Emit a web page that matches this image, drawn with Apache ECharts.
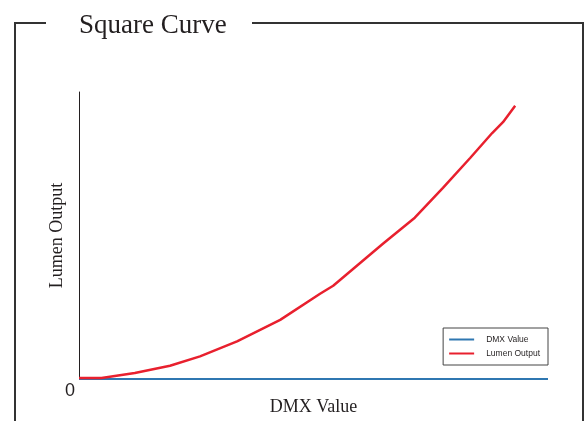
<!DOCTYPE html>
<html>
<head>
<meta charset="utf-8">
<script src="https://cdn.jsdelivr.net/npm/echarts@6/dist/echarts.min.js"></script>
<style>
html,body{margin:0;padding:0;background:#fff;}
#chart{width:584px;height:421px;}
</style>
</head>
<body>
<div id="chart"></div>
<script>
// DMX input (0-100 % of range) and lumen output
const dmxX = [0, 4.8, 11.9, 19.4, 25.8, 33.7, 42.9, 51.4, 54.2, 64.8, 71.6, 77.6, 83.4, 88.1, 90.4, 93.0]
const lumenY = [0.35, 0.35, 2.1, 4.6, 7.9, 13.1, 20.6, 29.7, 32.5, 47.1, 56.2, 66.6, 77.0, 85.7, 89.5, 95.2]
const dmxLineX = [0, 100]
const dmxLineY = [0, 0]
const yTicks = [0]

const chart = echarts.init(document.getElementById('chart'))

const serif = '"Liberation Serif", "Times New Roman", serif'
const sans = '"Liberation Sans", Arial, sans-serif'

const option = {
    animation: false,
    backgroundColor: '#fff',
    title: {
        text: 'Square Curve',
        left: 74,
        top: 7,
        textStyle: {
            fontFamily: serif,
            fontSize: 27,
            fontWeight: 'normal',
            color: '#231f20'
        }
    },
    graphic: [
        {
            type: 'polyline',
            shape: { points: [[46, 23], [15, 23], [15, 421]] },
            style: { stroke: '#333', lineWidth: 2, fill: null }
        },
        {
            type: 'polyline',
            shape: { points: [[252, 23], [583, 23], [583, 421]] },
            style: { stroke: '#333', lineWidth: 2, fill: null }
        }
    ],
    legend: {
        orient: 'vertical',
        right: 36,
        top: 328,
        icon: 'rect',
        itemWidth: 25,
        itemHeight: 2,
        itemGap: 5,
        padding: [7, 8, 7, 6],
        borderColor: '#444',
        borderWidth: 1,
        textStyle: {
            fontFamily: sans,
            fontSize: 8.5,
            color: '#231f20',
            padding: [0, 0, 0, 7]
        },
        data: ['DMX Value', 'Lumen Output']
    },
    grid: {
        left: 79,
        right: 36,
        top: 92,
        bottom: 42
    },
    xAxis: {
        type: 'value',
        min: 0,
        max: 100,
        name: 'DMX Value',
        nameLocation: 'middle',
        nameGap: 19,
        nameTextStyle: {
            fontFamily: serif,
            fontSize: 18,
            color: '#231f20'
        },
        axisLine: { show: false },
        axisTick: { show: false },
        axisLabel: { show: false },
        splitLine: { show: false }
    },
    yAxis: {
        type: 'value',
        min: 0,
        max: 100,
        interval: 100,
        name: 'Lumen Output',
        nameLocation: 'middle',
        nameGap: 13,
        nameMoveOverlap: false,
        nameTextStyle: {
            fontFamily: serif,
            fontSize: 18,
            color: '#231f20'
        },
        axisLine: { show: true, lineStyle: { color: '#231f20', width: 1 } },
        axisTick: { show: false },
        splitLine: { show: false },
        axisLabel: {
            fontFamily: sans,
            fontSize: 18,
            color: '#231f20',
            margin: 4,
            verticalAlign: 'top',
            padding: [3, 0, 0, 0],
            formatter: (v) => yTicks.includes(v) ? String(v) : ''
        }
    },
    series: [
        {
            name: 'DMX Value',
            type: 'line',
            showSymbol: false,
            data: dmxLineX.map((x, i) => [x, dmxLineY[i]]),
            lineStyle: { color: '#2f77b1', width: 2 },
            itemStyle: { color: '#2f77b1' }
        },
        {
            name: 'Lumen Output',
            type: 'line',
            showSymbol: false,
            data: dmxX.map((x, i) => [x, lumenY[i]]),
            lineStyle: { color: '#e8202e', width: 2.5 },
            itemStyle: { color: '#e8202e' }
        }
    ]
}

chart.setOption(option)
</script>
</body>
</html>
